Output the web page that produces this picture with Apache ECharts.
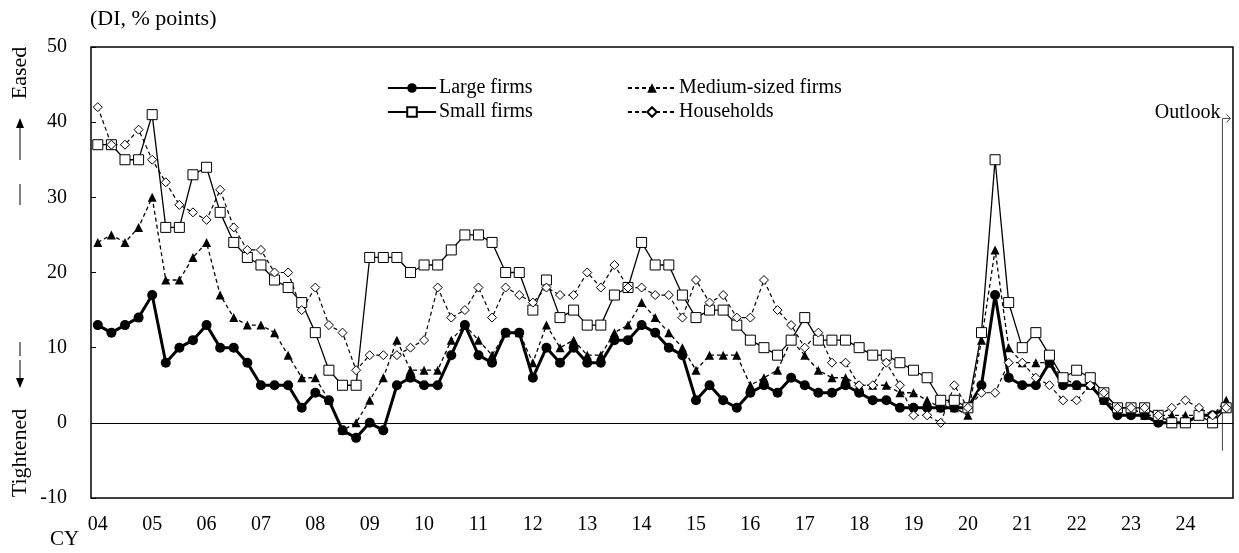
<!DOCTYPE html>
<html><head><meta charset="utf-8">
<script src="https://cdn.jsdelivr.net/npm/echarts@6/dist/echarts.min.js"></script>
<style>html,body{margin:0;padding:0;background:#fff}#c{width:1239px;height:553px}</style>
</head><body><div id="c"></div>
<script>
// ---- data ----
const yearLabels = ['04','05','06','07','08','09','10','11','12','13','14','15','16','17','18','19','20','21','22','23','24'];
const quarterNames = ['Q1','Q2','Q3','Q4'];
const categories = [];
yearLabels.forEach(y => quarterNames.forEach(q => categories.push(y + q)));

const largeFirms = [13,12,13,14, 17,8,10,11, 13,10,10,8, 5,5,5,2, 4,3,-1,-2, 0,-1,5,6, 5,5,9,13, 9,8,12,12, 6,10,8,10, 8,8,11,11, 13,12,10,9, 3,5,3,2, 4,5,4,6, 5,4,4,5, 4,3,3,2, 2,2,2,2, 2,5,17,6, 5,5,8,5, 5,5,3,1, 1,1,0,0, 0,1,1,2];
const mediumFirms = [24,25,24,26, 30,19,19,22, 24,17,14,13, 13,12,9,6, 6,3,-1,0, 3,6,11,7, 7,7,11,13, 11,9,12,12, 8,13,10,11, 9,9,12,13, 16,14,12,10, 7,9,9,9, 5,6,7,11, 9,7,6,6, 5,5,5,4, 4,3,2,2, 1,11,23,10, 8,8,8,6, 5,5,3,2, 2,1,1,1, 1,1,1,3];
const smallFirms = [37,37,35,35, 41,26,26,33, 34,28,24,22, 21,19,18,16, 12,7,5,5, 22,22,22,20, 21,21,23,25, 25,24,20,20, 15,19,14,15, 13,13,17,18, 24,21,21,17, 14,15,15,13, 11,10,9,11, 14,11,11,11, 10,9,9,8, 7,6,3,3, 2,12,35,16, 10,12,9,6, 7,6,4,2, 2,2,1,0, 0,1,0,2];
const households = [42,37,37,39, 35,32,29,28, 27,31,26,23, 23,20,20,15, 18,13,12,7, 9,9,9,10, 11,18,14,15, 18,14,18,17, 16,18,17,17, 20,18,21,18, 18,17,17,14, 19,16,17,14, 14,19,15,13, 10,12,8,8, 5,5,8,5, 1,1,0,5, 2,4,4,8, 8,6,5,3, 3,5,4,2, 2,2,1,2, 3,2,1,2];
const seriesNames = ['Large firms','Medium-sized firms','Small firms','Households'];

// ---- chart ----
const FONT = "'Liberation Serif', 'Times New Roman', serif";
const chart = echarts.init(document.getElementById('c'), null, {renderer:'canvas'});
const txt = {fontFamily: FONT, fontSize: 20, color: '#000'};

function legendAt(name, left, top) {
  return {data:[name], left:left, top:top, itemWidth:48, itemHeight:12, itemGap:0,
    textStyle:Object.assign({}, txt, {padding:[0,0,0,-2]}), selectedMode:false};
}

chart.setOption({
  animation: false,
  backgroundColor: '#fff',
  grid: {left: 91, right: 6, top: 47, bottom: 55, show: true, borderColor: '#000', borderWidth: 1.5, containLabel: false},
  legend: [
    legendAt(seriesNames[0], 382, 73),
    legendAt(seriesNames[1], 622, 73),
    legendAt(seriesNames[2], 382, 97),
    legendAt(seriesNames[3], 622, 97)
  ],
  xAxis: {
    type: 'category', data: categories, boundaryGap: true,
    axisLine: {show: false}, axisTick: {show: false},
    axisLabel: Object.assign({}, txt, {interval: 0, margin: 17,
      formatter: (v) => v.endsWith('Q1') ? v.slice(0, 2) : ''}),
    splitLine: {show: false}
  },
  yAxis: {
    type: 'value', min: -10, max: 50, interval: 10,
    axisLine: {show: false},
    axisTick: {show: true, inside: true, length: 5, lineStyle: {color: '#000', width: 1}},
    axisLabel: Object.assign({}, txt, {margin: 24}),
    splitLine: {show: false}
  },
  series: [
    {name: seriesNames[0], type: 'line', data: largeFirms, showAllSymbol: true,
      symbol: 'circle', symbolSize: 10, lineStyle: {color: '#000', width: 3},
      itemStyle: {color: '#000', borderColor: '#000', borderWidth: 0},
      markLine: {silent: true, symbol: 'none', label: {show: false},
        lineStyle: {color: '#000', width: 1, type: 'solid'}, data: [{yAxis: 0}]}},
    {name: seriesNames[1], type: 'line', data: mediumFirms, showAllSymbol: true,
      symbol: 'triangle', symbolSize: 9, lineStyle: {color: '#000', width: 1.3, type: [4, 3]},
      itemStyle: {color: '#000', borderColor: '#000', borderWidth: 0}},
    {name: seriesNames[2], type: 'line', data: smallFirms, showAllSymbol: true,
      symbol: 'rect', symbolSize: 10, lineStyle: {color: '#000', width: 1.3},
      itemStyle: {color: '#fff', borderColor: '#000', borderWidth: 1}},
    {name: seriesNames[3], type: 'line', data: households, showAllSymbol: true,
      symbol: 'diamond', symbolSize: 9, lineStyle: {color: '#000', width: 1.2, type: [4, 3]},
      itemStyle: {color: '#fff', borderColor: '#000', borderWidth: 1}}
  ]
});

// ---- annotations positioned via axis scales ----
const xLast = chart.convertToPixel({xAxisIndex: 0}, categories[categories.length - 1]);
const xPrev = chart.convertToPixel({xAxisIndex: 0}, categories[categories.length - 2]);
const xO = xPrev + (xLast - xPrev) * 0.72;
const yTop = chart.convertToPixel({yAxisIndex: 0}, 40.5);
const yBot = chart.convertToPixel({yAxisIndex: 0}, -3.7);
const lineCol = '#000';
chart.setOption({
  graphic: [
    {type: 'text', left: 90, top: 8, style: {text: '(DI, % points)', font: '22px ' + FONT, fill: '#000'}},
    {type: 'text', left: 50, top: 529, style: {text: 'CY', font: '21px ' + FONT, fill: '#000'}},
    {type: 'text', x: xO - 2, y: yTop - 6, style: {text: 'Outlook', font: '20px ' + FONT, fill: '#000', align: 'right', verticalAlign: 'middle'}},
    {type: 'line', shape: {x1: xO, y1: yTop, x2: xO, y2: yBot}, style: {stroke: '#444', lineWidth: 1}},
    {type: 'line', shape: {x1: xO, y1: yTop, x2: xO + 8, y2: yTop}, style: {stroke: '#444', lineWidth: 1}},
    {type: 'polyline', shape: {points: [[xO + 4, yTop - 4], [xO + 8, yTop], [xO + 4, yTop + 4]]}, style: {stroke: '#444', fill: 'none', lineWidth: 1}},
    // left side labels
    {type: 'text', x: 20, y: 73, rotation: Math.PI / 2, style: {text: 'Eased', font: '22px ' + FONT, fill: '#000', align: 'center', verticalAlign: 'middle'}},
    {type: 'line', shape: {x1: 20, y1: 160, x2: 20, y2: 122}, style: {stroke: lineCol, lineWidth: 1}},
    {type: 'polygon', shape: {points: [[16, 128], [20, 118], [24, 128]]}, style: {fill: lineCol}},
    {type: 'line', shape: {x1: 20, y1: 184, x2: 20, y2: 205}, style: {stroke: lineCol, lineWidth: 1}},
    {type: 'line', shape: {x1: 20, y1: 342, x2: 20, y2: 356}, style: {stroke: lineCol, lineWidth: 1}},
    {type: 'line', shape: {x1: 20, y1: 360, x2: 20, y2: 382}, style: {stroke: lineCol, lineWidth: 1}},
    {type: 'polygon', shape: {points: [[16, 378], [20, 388], [24, 378]]}, style: {fill: lineCol}},
    {type: 'text', x: 20, y: 453, rotation: Math.PI / 2, style: {text: 'Tightened', font: '22px ' + FONT, fill: '#000', align: 'center', verticalAlign: 'middle'}}
  ]
});
</script>
</body></html>
